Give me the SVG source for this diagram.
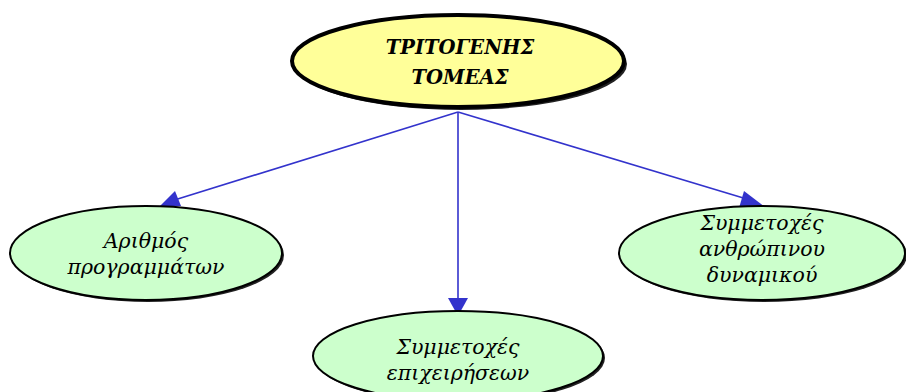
<svg xmlns="http://www.w3.org/2000/svg" width="906" height="392" viewBox="0 0 906 392">
<defs>
<style>
.g{fill:#CCFFCC;stroke:#000;stroke-width:2}
.sh{fill:#222}
.t{font-family:'DejaVu Serif',serif;font-style:italic;font-size:20.5px;text-anchor:middle;fill:#000}
.tb{font-family:'DejaVu Serif',serif;font-style:italic;font-weight:bold;font-size:19.5px;text-anchor:middle;fill:#000}
.c{stroke:#3333CC;stroke-width:1.6;fill:none}
</style>
</defs>
<rect width="906" height="392" fill="#fff"/>
<g id="connectors">
<line class="c" x1="458" y1="112" x2="168" y2="202"/>
<path d="M175,191 L160,206 L181,206 z" fill="#3333CC"/>
<line class="c" x1="458" y1="112" x2="458" y2="300"/>
<path d="M448,298 L458,316 L468,298 z" fill="#3333CC"/>
<line class="c" x1="458" y1="112" x2="750" y2="200"/>
<path d="M744,191 L765,207 L739,208 z" fill="#3333CC"/>
</g>
<g id="top">
<ellipse cx="461" cy="64" rx="166" ry="46" class="sh"/>
<ellipse cx="458" cy="61" rx="166" ry="46" fill="#FFFF99" stroke="#000" stroke-width="4"/>
<text class="tb" x="460" y="54">ΤΡΙΤΟΓΕΝΗΣ</text>
<text class="tb" x="460" y="84">ΤΟΜΕΑΣ</text>
</g>
<g id="left">
<ellipse cx="148" cy="255" rx="136" ry="47" class="sh"/>
<ellipse cx="146" cy="253" rx="136" ry="47" class="g"/>
<text class="t" x="146" y="248">Αριθμός</text>
<text class="t" x="146" y="274">προγραμμάτων</text>
</g>
<g id="right">
<ellipse cx="764" cy="255" rx="143" ry="47" class="sh"/>
<ellipse cx="762" cy="253" rx="143" ry="47" class="g"/>
<text class="t" x="762" y="230">Συμμετοχές</text>
<text class="t" x="762" y="256">ανθρώπινου</text>
<text class="t" x="762" y="282">δυναμικού</text>
</g>
<g id="bottom">
<ellipse cx="460" cy="358" rx="145" ry="45" class="sh"/>
<ellipse cx="458" cy="356" rx="145" ry="45" class="g"/>
<text class="t" x="458" y="354">Συμμετοχές</text>
<text class="t" x="458" y="380">επιχειρήσεων</text>
</g>
</svg>
